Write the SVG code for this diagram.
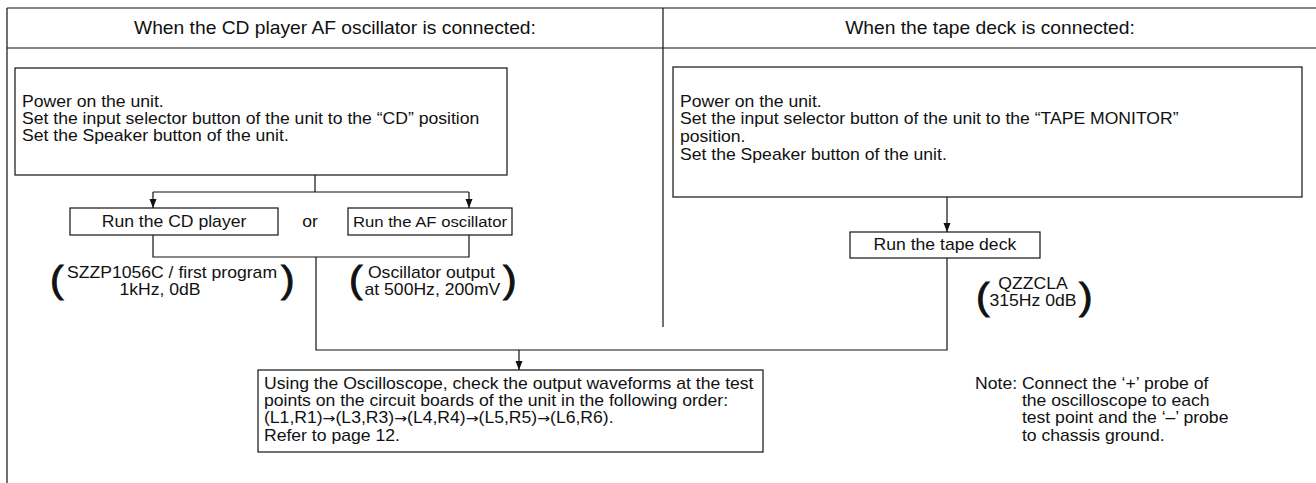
<svg xmlns="http://www.w3.org/2000/svg" width="1316" height="483" viewBox="0 0 1316 483">
<defs>
<marker id="ah" markerWidth="10" markerHeight="8" refX="9" refY="3.5" orient="auto" markerUnits="userSpaceOnUse">
<path d="M0,0 L9,3.5 L0,7 z" fill="#111"/>
</marker>
<style>
.t{font-family:"Liberation Sans",Arial,Helvetica,sans-serif;font-size:16px;fill:#111}
.s{font-size:15.2px}
.a{font-family:"DejaVu Sans",sans-serif;font-size:14px}
.h{font-family:"Liberation Sans",Arial,Helvetica,sans-serif;font-size:17.5px;fill:#111}
.p{font-family:"Liberation Sans",Arial,Helvetica,sans-serif;font-size:37px;fill:#111;stroke:#111;stroke-width:0.9}
.m{text-anchor:middle}
.box{fill:#fff;stroke:#111;stroke-width:1.2}
.ln{fill:none;stroke:#111;stroke-width:1.2}
.ar{fill:none;stroke:#111;stroke-width:1.2;marker-end:url(#ah)}
</style>
</defs>
<rect width="1316" height="483" fill="#fff"/>
<g id="frame">
<path class="ln" d="M7,8 H1316 M7,48 H1316 M7,8 V483 M663,8 V48"/>
<g transform="scale(1.1 1)">
<text class="h m" x="304.5" y="34">When the CD player AF oscillator is connected:</text>
<text class="h m" x="900" y="34">When the tape deck is connected:</text>
</g>
</g>
<g id="connectors">
<path class="ln" d="M663,48 V327"/>
<path class="ln" d="M315,175 V192 M153,192 H469"/>
<path class="ar" d="M153,192 V208"/>
<path class="ar" d="M469,192 V208"/>
<path class="ln" d="M153,235 V257 H469 V235 M316,257 V350 H947 V258"/>
<path class="ar" d="M519,350 V370"/>
<path class="ar" d="M947,197 V232"/>
</g>
<g id="cd-setup">
<rect class="box" x="15" y="68" width="492" height="107"/>
<g transform="scale(1.1 1)">
<text class="t" x="20" y="107">Power on the unit.</text>
<text class="t" x="20" y="124">Set the input selector button of the unit to the “CD” position</text>
<text class="t" x="20" y="141">Set the Speaker button of the unit.</text>
</g>
</g>
<g id="run-cd">
<rect class="box" x="70" y="208" width="208" height="27"/>
<g transform="scale(1.1 1)"><text class="t m" x="158.2" y="227">Run the CD player</text></g>
</g>
<g id="or-label">
<g transform="scale(1.1 1)"><text class="t m" x="281.8" y="227">or</text></g>
</g>
<g id="run-af">
<rect class="box" x="348" y="208" width="164" height="27"/>
<g transform="scale(1.1 1)"><text class="t s m" x="390.9" y="227">Run the AF oscillator</text></g>
</g>
<g id="cd-note">
<g transform="scale(1.1 1)">
<text class="p" x="45.5" y="292">(</text>
<text class="t m" x="156.4" y="278">SZZP1056C / first program</text>
<text class="t m" x="145.5" y="295">1kHz, 0dB</text>
<text class="p" x="255.5" y="292">)</text>
</g>
</g>
<g id="af-note">
<g transform="scale(1.1 1)">
<text class="p" x="317.3" y="292">(</text>
<text class="t" x="334.5" y="278">Oscillator output</text>
<text class="t" x="331.4" y="295">at 500Hz, 200mV</text>
<text class="p" x="457.3" y="292">)</text>
</g>
</g>
<g id="tape-setup">
<rect class="box" x="673" y="67" width="629" height="130"/>
<g transform="scale(1.1 1)">
<text class="t" x="618.2" y="107">Power on the unit.</text>
<text class="t" x="618.2" y="124">Set the input selector button of the unit to the “TAPE MONITOR”</text>
<text class="t" x="618.2" y="142">position.</text>
<text class="t" x="618.2" y="160">Set the Speaker button of the unit.</text>
</g>
</g>
<g id="run-tape">
<rect class="box" x="850" y="232" width="190" height="26"/>
<g transform="scale(1.1 1)"><text class="t m" x="859" y="250">Run the tape deck</text></g>
</g>
<g id="tape-note">
<g transform="scale(1.1 1)">
<text class="p" x="887.3" y="309">(</text>
<text class="t m" x="939.1" y="289">QZZCLA</text>
<text class="t m" x="939.1" y="306">315Hz 0dB</text>
<text class="p" x="981" y="309">)</text>
</g>
</g>
<g id="check-waveforms">
<rect class="box" x="258" y="370" width="505" height="82"/>
<g transform="scale(1.1 1)">
<text class="t" x="240" y="389">Using the Oscilloscope, check the output waveforms at the test</text>
<text class="t" x="240" y="406">points on the circuit boards of the unit in the following order:</text>
<text class="t" x="240" y="423">(L1,R1)<tspan class="a">→</tspan>(L3,R3)<tspan class="a">→</tspan>(L4,R4)<tspan class="a">→</tspan>(L5,R5)<tspan class="a">→</tspan>(L6,R6).</text>
<text class="t" x="240" y="441">Refer to page 12.</text>
</g>
</g>
<g id="probe-note">
<g transform="scale(1.1 1)">
<text class="t" x="886.4" y="389">Note: Connect the ‘+’ probe of</text>
<text class="t" x="929" y="406">the oscilloscope to each</text>
<text class="t" x="929" y="423">test point and the ‘–’ probe</text>
<text class="t" x="929" y="441">to chassis ground.</text>
</g>
</g>
</svg>
